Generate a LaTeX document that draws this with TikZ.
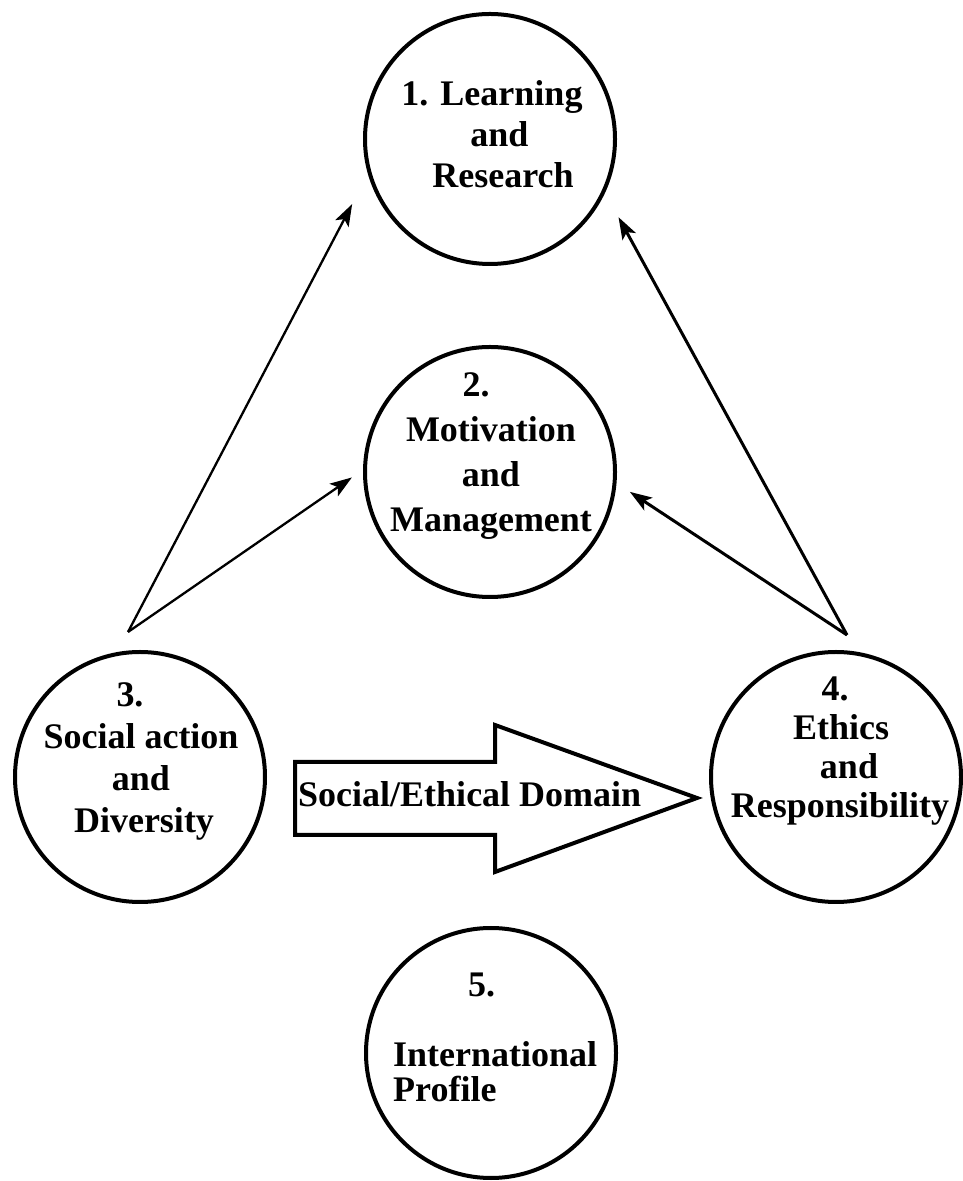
\documentclass[tikz,border=0pt]{standalone}
\usepackage{fontspec}
\setmainfont{Liberation Serif}
\usetikzlibrary{arrows.meta,calc}

\begin{document}
\begin{tikzpicture}[x=1pt,y=1pt,
  ring/.style={circle,draw,line width=4pt,minimum size=250pt,inner sep=0pt},
  lbl/.style={font=\fontsize{36}{#1}\selectfont\bfseries,align=center,inner sep=0pt,anchor=north},
  lbl/.default=42,
  link/.style={-{Stealth[length=22pt,width=15pt,inset=5pt]},line width=#1},
  link/.default=2.3pt]
  \useasboundingbox (0,0) rectangle (962,1181);
  % the five circles
  \node[ring] (c1) at (490,1042) {};
  \node[ring] (c2) at (490,709) {};
  \node[ring] (c3) at (140,404) {};
  \node[ring] (c4) at (836,404) {};
  \node[ring] (c5) at (491,128) {};
  % their texts
  \node[lbl=41] (t1) at (492,1101) {1. Learning\\\hspace*{15pt}and\\\hspace*{22pt}Research};
  \node[lbl=45] (t2) at (491,809) {2.\hspace*{30pt}\\Motivation\hspace*{28pt}\\and\hspace*{34pt}\\Management};
  \node[lbl=42] (t3) at (141,499) {3.\hspace*{22pt}\\Social action\\and\hspace*{24pt}\\\hspace*{6pt}Diversity};
  \node[lbl=39] (t4) at (840,504) {4.\hspace*{10pt}\\\hspace*{2pt}Ethics\\\hspace*{18pt}and\\Responsibility};
  \node[lbl=35,align=left,anchor=north west] (t5) at (393,208) {\hspace*{75pt}5.\\[35pt]International\\Profile};
  % thin arrows
  \coordinate (s3) at (128,549);
  \coordinate (s4) at (847,546);
  \draw[link,shorten >=34pt] (s3) -- (c1.196);
  \draw[link,shorten >=13.5pt] (s3) -- (c2.179);
  \draw[link=3pt,shorten >=28pt] (s4) -- (c1.335);
  \draw[link=3pt,shorten >=16pt] (s4) -- (c2.355);
  % block arrow
  \draw[line width=4pt,line join=miter] (295,419) -- (495,419) -- (495,456) -- (697,383)
    -- (495,309) -- (495,346) -- (295,346) -- cycle;
  \node[font=\fontsize{36}{42}\selectfont\bfseries,anchor=base west,inner sep=0pt] (dom) at (298,374) {Social/Ethical Domain};
\end{tikzpicture}
\end{document}
